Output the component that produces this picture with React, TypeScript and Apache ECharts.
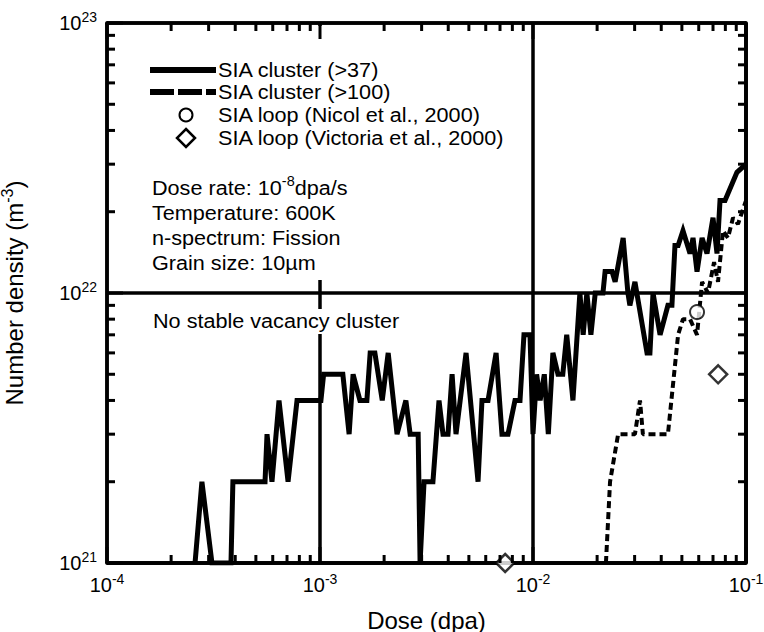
import React, { useEffect, useRef } from "react";
import * as echarts from "echarts";

// SIA cluster number density vs. dose (clusters larger than 37 SIAs)
const sia37Dose = [
  2.59e-4, 2.79e-4, 3.11e-4, 3.82e-4, 3.9e-4, 5.52e-4, 5.64e-4, 5.95e-4, 6.42e-4, 7.08e-4,
  7.8e-4, 1.01e-3, 1.04e-3, 1.28e-3, 1.37e-3, 1.43e-3, 1.54e-3, 1.66e-3, 1.72e-3, 1.81e-3,
  1.96e-3, 2.09e-3, 2.3e-3, 2.53e-3, 2.65e-3, 2.89e-3, 2.95e-3, 3.08e-3, 3.39e-3, 3.62e-3,
  3.78e-3, 3.99e-3, 4.17e-3, 4.35e-3, 4.85e-3, 5.52e-3, 5.76e-3, 6.15e-3, 6.71e-3, 7.15e-3,
  7.63e-3, 8.23e-3, 8.69e-3, 9.07e-3, 9.68e-3, 1.0e-2, 1.04e-2, 1.08e-2, 1.13e-2, 1.18e-2,
  1.24e-2, 1.31e-2, 1.38e-2, 1.44e-2, 1.54e-2, 1.66e-2, 1.72e-2, 1.79e-2, 1.87e-2, 1.96e-2,
  2.13e-2, 2.18e-2, 2.35e-2, 2.43e-2, 2.65e-2, 2.79e-2, 2.85e-2, 3.01e-2, 3.43e-2, 3.54e-2,
  3.66e-2, 3.95e-2, 4.3e-2, 4.49e-2, 4.64e-2, 4.8e-2, 5.06e-2, 5.46e-2, 5.64e-2, 5.89e-2,
  6.22e-2, 6.56e-2, 7.0e-2, 7.31e-2, 7.55e-2, 7.97e-2, 9.07e-2, 1.0e-1,
];
// density in units of 1e21 m^-3
const sia37DensityE21 = [
  1, 2, 1, 1, 2, 2, 3, 2, 4, 2,
  4, 4, 5, 5, 3, 5, 4, 4, 6, 6,
  4, 6, 3, 4, 3, 3, 1, 2, 2, 4,
  3, 3, 5, 3, 6, 2, 4, 4, 6, 3,
  3, 4, 4, 7, 7, 3, 5, 4, 5, 3,
  6, 5, 5, 7, 4, 10, 7, 10, 7, 10,
  10, 12, 12, 11, 16, 10, 9, 11, 6, 6,
  10, 7, 9, 9, 15, 15, 17, 14, 16, 12,
  16, 14, 19, 14, 22, 22, 28, 30,
];

// SIA clusters larger than 100 SIAs
const sia100Dose = [
  2.2e-2, 2.3e-2, 2.51e-2, 3.01e-2, 3.18e-2, 3.28e-2, 4.3e-2, 4.8e-2, 5.06e-2, 5.46e-2,
  5.89e-2, 6.22e-2, 6.63e-2, 7.08e-2, 7.39e-2, 7.8e-2, 8.23e-2, 8.69e-2, 9.17e-2, 1.0e-1,
];
const sia100DensityE21 = [1, 2, 3, 3, 4, 3, 3, 7, 8, 8, 7, 11, 10, 13, 11, 17, 16, 19, 18, 22];

// Experimental SIA loop densities
const nicolDose = [0.0589];
const nicolDensity = [8.5e21];
const victoriaDose = [0.0074, 0.074];
const victoriaDensity = [1.0e21, 5.0e21];

const legendLabels = [
  "SIA cluster (>37)",
  "SIA cluster (>100)",
  "SIA loop (Nicol et al., 2000)",
  "SIA loop (Victoria et al., 2000)",
];

const conditionLines = [
  "Dose rate: 10{s|-8}dpa/s",
  "Temperature: 600K",
  "n-spectrum: Fission",
  "Grain size: 10\u00b5m",
];
const noteText = "No stable vacancy cluster";

// axis ranges and tick positions
const xRange = [1e-4, 1e-1];
const yRange = [1e21, 1e23];
const xMajorTicks = [1e-4, 1e-3, 1e-2, 1e-1];
const yMajorTicks = [1e21, 1e22, 1e23];
const mantissas = [2, 3, 4, 5, 6, 7, 8, 9];
const xMinorTicks = xMajorTicks.slice(0, -1).flatMap((d) => mantissas.map((m) => m * d));
const yMinorTicks = yMajorTicks.slice(0, -1).flatMap((d) => mantissas.map((m) => m * d));

const FONT = "'Liberation Sans', Arial, Helvetica, sans-serif";
const INK = "#000";
const TEXT_SIZE = 21;
const TEXT_STRETCH = 1.03;
const MAJOR_TICK = 16;
const MINOR_TICK = 8;
const TICK_WIDTH = 3;

const powLabel = (v: number) => `{b|10}{s|${Math.round(Math.log10(v))}}`;

const tickRich = {
  b: { fontFamily: FONT, fontSize: 20, lineHeight: 26, color: INK },
  s: { fontFamily: FONT, fontSize: 14, lineHeight: 14, color: INK, verticalAlign: "top" },
};

function logAxis(dim: "x" | "y", position: string, primary: boolean) {
  const range = dim === "x" ? xRange : yRange;
  return {
    type: "log",
    min: range[0],
    max: range[1],
    position,
    axisLine: { show: true, onZero: false, lineStyle: { color: INK, width: 3.5 } },
    axisTick: { show: false },
    axisLabel: primary
      ? { show: true, formatter: powLabel, margin: dim === "x" ? 9 : 10, rich: tickRich }
      : { show: false },
    splitLine: { show: primary, lineStyle: { color: INK, width: 3.5 } },
    z: 1,
  };
}

// Inward tick marks on both opposite frame sides, placed through the axis scales
function xTickSeries(values: number[], len: number) {
  return {
    type: "custom",
    xAxisIndex: 0,
    yAxisIndex: 0,
    clip: false,
    z: 6,
    data: values.map((v) => [v, yRange[0]]),
    renderItem: (_p: any, api: any) => {
      const v = api.value(0);
      const b = api.coord([v, yRange[0]]);
      const t = api.coord([v, yRange[1]]);
      const style = { stroke: INK, lineWidth: TICK_WIDTH };
      return {
        type: "group",
        children: [
          { type: "line", shape: { x1: b[0], y1: b[1], x2: b[0], y2: b[1] - len }, style },
          { type: "line", shape: { x1: t[0], y1: t[1], x2: t[0], y2: t[1] + len }, style },
        ],
      };
    },
  };
}

function yTickSeries(values: number[], len: number) {
  return {
    type: "custom",
    xAxisIndex: 0,
    yAxisIndex: 0,
    clip: false,
    z: 6,
    data: values.map((v) => [xRange[0], v]),
    renderItem: (_p: any, api: any) => {
      const v = api.value(1);
      const l = api.coord([xRange[0], v]);
      const r = api.coord([xRange[1], v]);
      const style = { stroke: INK, lineWidth: TICK_WIDTH };
      return {
        type: "group",
        children: [
          { type: "line", shape: { x1: l[0], y1: l[1], x2: l[0] + len, y2: l[1] }, style },
          { type: "line", shape: { x1: r[0], y1: r[1], x2: r[0] - len, y2: r[1] }, style },
        ],
      };
    },
  };
}

const legendRowsY = [70, 92, 115, 138];
const legendLineX = [150, 216];
const legendMarkX = 186;

const labelStyle = (text: string) => ({
  text,
  fontFamily: FONT,
  fontSize: TEXT_SIZE,
  lineHeight: 27,
  fill: INK,
  verticalAlign: "middle",
  rich: { s: { fontFamily: FONT, fontSize: 14, lineHeight: 14, fill: INK, verticalAlign: "top" } },
});

const option: any = {
  animation: false,
  grid: {
    left: 107,
    right: 18,
    top: 23,
    bottom: 69,
    // let the edge tick labels sit near the canvas border without shrinking the plot
    outerBounds: { left: -100, right: -100, top: -100, bottom: -100 },
  },
  xAxis: [
    {
      ...logAxis("x", "bottom", true),
      name: "Dose (dpa)",
      nameLocation: "middle",
      nameGap: 45,
      nameTextStyle: { fontFamily: FONT, fontSize: 24, color: INK },
    },
    logAxis("x", "top", false),
  ],
  yAxis: [
    {
      ...logAxis("y", "left", true),
      name: "Number density (m{s|-3})",
      nameLocation: "middle",
      nameGap: 78,
      nameRotate: 90,
      nameTextStyle: {
        fontFamily: FONT,
        fontSize: 24,
        lineHeight: 30,
        color: INK,
        rich: {
          s: { fontFamily: FONT, fontSize: 16, lineHeight: 16, color: INK, verticalAlign: "top" },
        },
      },
    },
    logAxis("y", "right", false),
  ],
  series: [
    xTickSeries(xMajorTicks, MAJOR_TICK),
    xTickSeries(xMinorTicks, MINOR_TICK),
    yTickSeries(yMajorTicks, MAJOR_TICK),
    yTickSeries(yMinorTicks, MINOR_TICK),
    {
      name: legendLabels[0],
      type: "line",
      xAxisIndex: 0,
      yAxisIndex: 0,
      symbol: "none",
      lineStyle: { color: INK, width: 5, join: "miter", miterLimit: 4 },
      data: sia37Dose.map((d, i) => [d, sia37DensityE21[i] * 1e21]),
      z: 4,
    },
    {
      name: legendLabels[1],
      type: "line",
      xAxisIndex: 0,
      yAxisIndex: 0,
      symbol: "none",
      lineStyle: { color: INK, width: 4, type: [7, 4] },
      data: sia100Dose.map((d, i) => [d, sia100DensityE21[i] * 1e21]),
      z: 4,
    },
    {
      name: legendLabels[2],
      type: "scatter",
      xAxisIndex: 0,
      yAxisIndex: 0,
      symbol: "circle",
      symbolSize: 14,
      clip: false,
      itemStyle: { color: "#fff", borderColor: INK, borderWidth: 2 },
      data: nicolDose.map((d, i) => [d, nicolDensity[i]]),
      z: 5,
    },
    {
      name: legendLabels[3],
      type: "scatter",
      xAxisIndex: 0,
      yAxisIndex: 0,
      symbol: "diamond",
      symbolSize: 18,
      clip: false,
      itemStyle: { color: "#fff", borderColor: INK, borderWidth: 2.5 },
      data: victoriaDose.map((d, i) => [d, victoriaDensity[i]]),
      z: 5,
    },
  ],
  graphic: [
    // white backing behind the key and the annotation text
    {
      type: "rect",
      z: 2,
      shape: { x: 110, y: 26, width: 405, height: 254 },
      style: { fill: "#fff" },
    },
    {
      type: "rect",
      z: 2,
      shape: { x: 148, y: 309, width: 262, height: 25 },
      style: { fill: "#fff" },
    },
    // legend keys
    {
      type: "line",
      z: 2,
      z2: 5,
      shape: { x1: legendLineX[0], y1: legendRowsY[0], x2: legendLineX[1], y2: legendRowsY[0] },
      style: { stroke: INK, lineWidth: 6 },
    },
    {
      type: "line",
      z: 2,
      z2: 5,
      shape: { x1: legendLineX[0], y1: legendRowsY[1], x2: legendLineX[1], y2: legendRowsY[1] },
      style: { stroke: INK, lineWidth: 6, lineDash: [24, 4] },
    },
    {
      type: "circle",
      z: 2,
      z2: 5,
      shape: { cx: legendMarkX, cy: legendRowsY[2], r: 6.5 },
      style: { fill: "#fff", stroke: INK, lineWidth: 2 },
    },
    {
      type: "polygon",
      z: 2,
      z2: 5,
      shape: {
        points: [
          [legendMarkX, legendRowsY[3] - 9],
          [legendMarkX + 9, legendRowsY[3]],
          [legendMarkX, legendRowsY[3] + 9],
          [legendMarkX - 9, legendRowsY[3]],
        ],
      },
      style: { fill: "#fff", stroke: INK, lineWidth: 2.5 },
    },
    ...legendLabels.map((t, i) => ({
      type: "text",
      z: 2,
      z2: 5,
      x: legendLineX[1] + 2,
      y: legendRowsY[i],
      scaleX: TEXT_STRETCH,
      style: labelStyle(t),
    })),
    // simulation conditions
    ...conditionLines.map((t, i) => ({
      type: "text",
      z: 2,
      z2: 5,
      x: 152,
      y: 188 + i * 25,
      scaleX: TEXT_STRETCH,
      style: labelStyle(t),
    })),
    {
      type: "text",
      z: 2,
      z2: 5,
      x: 153,
      y: 321,
      scaleX: TEXT_STRETCH,
      style: labelStyle(noteText),
    },
  ],
};

export default function App() {
  const ref = useRef<HTMLDivElement>(null);
  useEffect(() => {
    if (!ref.current) return;
    const chart = echarts.init(ref.current, null, { renderer: "svg" });
    chart.setOption(option);
    return () => chart.dispose();
  }, []);
  return (
    <div
      ref={ref}
      style={{ position: "absolute", left: 0, top: 0, width: 764, height: 632, background: "#fff" }}
    />
  );
}
